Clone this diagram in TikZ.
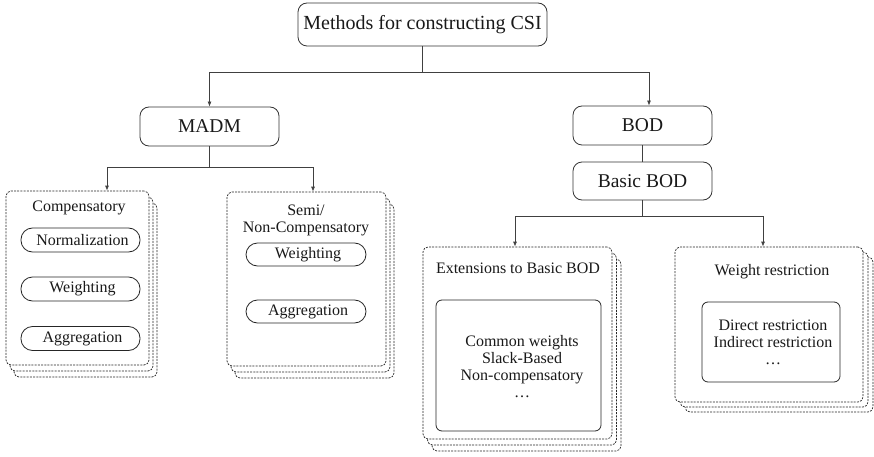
\documentclass[tikz,border=0pt]{standalone}
\usepackage{fontspec}
\setmainfont{LiberationSerif}[Extension=.ttf, UprightFont=*-Regular, BoldFont=*-Bold, ItalicFont=*-Italic]
\usetikzlibrary{arrows.meta}
\begin{document}
\begin{tikzpicture}[x=1pt,y=-1pt,
  mainbox/.style={draw=black!80, line width=0.8pt, rounded corners=9pt, inner sep=0pt, text=black!90},
  dbox/.style={draw=black!85, dash pattern=on 2pt off 1.2pt, line width=0.7pt, rounded corners=5pt, fill=white, inner sep=0pt},
  pill/.style={draw=black!85, line width=0.8pt, rounded corners=11.5pt, inner sep=0pt, minimum width=119pt, minimum height=24pt, font=\fontsize{16}{18}\selectfont, text=black!90},
  inbox/.style={draw=black!85, line width=0.8pt, rounded corners=6pt, inner sep=0pt},
  lbl/.style={font=\fontsize{16}{17}\selectfont, align=center, inner sep=0pt, text=black!90},
  conn/.style={draw=black!75, line width=0.8pt},
  arr/.style={conn, -{Latex[length=5pt,width=4pt]}}
]
\useasboundingbox (0,0) rectangle (874,457);

% top level
\node[mainbox, minimum width=249pt, minimum height=43pt, font=\fontsize{20}{22}\selectfont] (top) at (422.5,24.5) {Methods for constructing CSI};
\node[mainbox, minimum width=139pt, minimum height=39pt, font=\fontsize{19.5}{22}\selectfont] (madm) at (209.5,126.5) {MADM};
\node[mainbox, minimum width=139pt, minimum height=39pt, font=\fontsize{19.5}{22}\selectfont] (bod) at (642.5,125.5) {BOD};
\node[mainbox, minimum width=139pt, minimum height=38pt, font=\fontsize{19.5}{22}\selectfont] (basic) at (642.5,181) {Basic BOD};

% Compensatory stack
\node[dbox, minimum width=143pt, minimum height=174pt] (comp3) at (85.5,290) {};
\node[dbox, minimum width=143pt, minimum height=174pt] (comp2) at (81.5,284) {};
\node[dbox, minimum width=143pt, minimum height=174pt] (comp) at (77.5,278) {};
\node[lbl] (compt) at (79,208) {Compensatory};
\node[pill] (norm) at (80.5,240) {\hspace{4pt}Normalization};
\node[pill] (cw) at (80.5,289) {\hspace{4pt}Weighting};
\node[pill] (ca) at (80.5,338.5) {\hspace{4pt}Aggregation};

% Semi stack
\node[dbox, minimum width=159pt, minimum height=174pt] (semi3) at (314.5,291) {};
\node[dbox, minimum width=159pt, minimum height=174pt] (semi2) at (310.5,285) {};
\node[dbox, minimum width=159pt, minimum height=174pt] (semi) at (306.5,279) {};
\node[lbl] (semit) at (306,220) {Semi/\\Non-Compensatory};
\node[pill, minimum width=120pt, minimum height=23pt] (sw) at (306,254.5) {\hspace{4pt}Weighting};
\node[pill, minimum width=120pt, minimum height=23pt] (sa) at (306,311.5) {\hspace{4pt}Aggregation};

% Extensions stack
\node[dbox, minimum width=189pt, minimum height=192pt] (ext3) at (526.5,355) {};
\node[dbox, minimum width=189pt, minimum height=192pt] (ext2) at (522,349) {};
\node[dbox, minimum width=189pt, minimum height=192pt] (ext) at (517.5,343) {};
\node[lbl] (extt) at (518,268) {Extensions to Basic BOD};
\node[inbox, minimum width=165pt, minimum height=131pt] (extin) at (518.5,365.5) {};
\node[lbl, font=\fontsize{16}{17}\selectfont] (extl) at (522,367) {Common weights\\Slack-Based\\Non-compensatory\\\dots};

% Weight restriction stack
\node[dbox, minimum width=188pt, minimum height=155pt] (wr3) at (779,334.5) {};
\node[dbox, minimum width=188pt, minimum height=155pt] (wr2) at (774,329.5) {};
\node[dbox, minimum width=188pt, minimum height=155pt] (wr) at (769,324.5) {};
\node[lbl] (wrt) at (772,272) {Weight restriction};
\node[inbox, minimum width=138pt, minimum height=80pt] (wrin) at (771,342) {};
\node[lbl] (wrl) at (773,342) {Direct restriction\\Indirect restriction\\\dots};

% connectors
\coordinate (j1) at (top.south |- 0,72);
\draw[conn] (top.south) -- (j1);
\draw[arr] (j1) -| (madm.north);
\draw[arr] (j1) -| ([xshift=6.5pt]bod.north);
\draw[conn] (bod.south) -- (basic.north);

\coordinate (j2) at (madm.south |- 0,167);
\draw[conn] (madm.south) -- (j2);
\draw[arr] (j2) -| ([xshift=29.5pt]comp.north);
\draw[arr] (j2) -| ([xshift=6.5pt]semi.north);

\coordinate (j3) at (basic.south |- 0,216);
\draw[conn] (basic.south) -- (j3);
\draw[arr] (j3) -| ([xshift=-2.5pt]ext.north);
\draw[arr] (j3) -| ([xshift=-6pt]wr.north);
\end{tikzpicture}
\end{document}
